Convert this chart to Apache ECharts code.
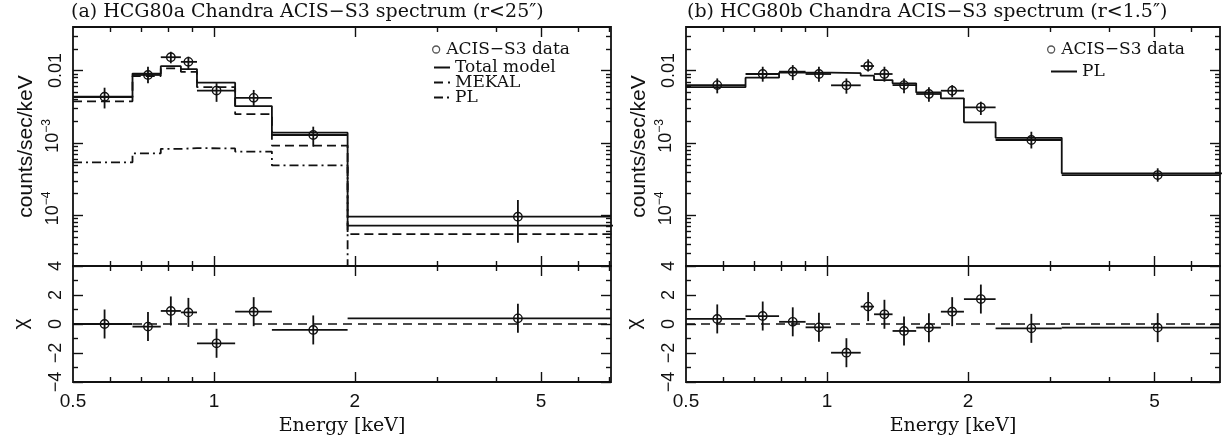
<!DOCTYPE html>
<html>
<head>
<meta charset="utf-8">
<script src="https://cdn.jsdelivr.net/npm/echarts@6/dist/echarts.min.js"></script>
<style>
html, body { margin: 0; padding: 0; background: #fff; }
#spec { width: 1223px; height: 441px; }
</style>
</head>
<body>
<div id="spec"></div>
<script>
// ---- panel (a): HCG80a, r<25" ----
// bin edges in keV (last edge runs past the frame)
const binsA = [0.5, 0.67, 0.77, 0.85, 0.92, 1.11, 1.33, 1.93, 8];
const energyA = [0.584, 0.723, 0.809, 0.882, 1.013, 1.216, 1.63, 4.46];
const rateA = [4.36e-3, 8.7e-3, 0.0153, 0.0132, 5.3e-3, 4.2e-3, 1.29e-3, 9.6e-5];
const rateLoA = [3.0e-3, 6.7e-3, 0.0126, 0.0102, 3.7e-3, 3.25e-3, 8.9e-4, 4.2e-5];
const rateHiA = [5.8e-3, 0.0113, 0.0182, 0.0156, 6.7e-3, 5.4e-3, 1.68e-3, 1.63e-4];
const totalA = [4.3e-3, 9.1e-3, 0.0115, 0.0105, 6.8e-3, 3.24e-3, 1.39e-3, 7.2e-5];
const mekalA = [3.76e-3, 8.4e-3, 0.0107, 9.6e-3, 5.9e-3, 2.5e-3, 9.2e-4, 5.5e-5];
const plA = [5.4e-4, 7.2e-4, 8.3e-4, 8.5e-4, 8.4e-4, 7.6e-4, 4.9e-4, 1.7e-5];
const chiA = [0.0, -0.18, 0.9, 0.8, -1.33, 0.85, -0.41, 0.39];
const chiErrA = [1, 1, 1, 1, 1, 1, 1, 1];

// ---- panel (b): HCG80b, r<1.5" ----
const binsB = [0.5, 0.67, 0.79, 0.90, 1.02, 1.18, 1.26, 1.38, 1.55, 1.75, 1.96, 2.29, 3.17, 8];
const energyB = [0.583, 0.729, 0.845, 0.961, 1.10, 1.224, 1.326, 1.46, 1.65, 1.85, 2.13, 2.73, 5.08];
const rateB = [6.3e-3, 8.97e-3, 9.66e-3, 8.97e-3, 6.26e-3, 0.01156, 8.97e-3, 6.3e-3, 4.75e-3, 5.27e-3, 3.11e-3, 1.1e-3, 3.61e-4];
const rateLoB = [4.85e-3, 7.03e-3, 7.4e-3, 7.03e-3, 4.8e-3, 9.7e-3, 7.03e-3, 4.85e-3, 3.72e-3, 4.28e-3, 2.44e-3, 8.4e-4, 2.92e-4];
const rateHiB = [7.8e-3, 0.0113, 0.0119, 0.0113, 7.8e-3, 0.0143, 0.0113, 7.8e-3, 5.87e-3, 6.3e-3, 3.72e-3, 1.43e-3, 4.47e-4];
const plB = [5.9e-3, 7.98e-3, 9.35e-3, 9.35e-3, 9.2e-3, 8.5e-3, 7.4e-3, 6.67e-3, 5.0e-3, 4.14e-3, 1.93e-3, 1.18e-3, 3.81e-4];
const chiB = [0.35, 0.55, 0.15, -0.23, -1.98, 1.2, 0.67, -0.48, -0.25, 0.85, 1.72, -0.3, -0.25];
const chiErrB = [1, 1, 1, 1, 1, 1, 1, 1, 1, 1, 1, 1, 1];

// ---- axes ----
const xMaxA = 7.05, xMaxB = 6.9;
const xMajor = [1, 2, 5];
const xMinor = [0.6, 0.7, 0.8, 0.9, 3, 4, 6, 7];
const xLabels = [0.5, 1, 2, 5];
const yMajor = [1e-4, 1e-3, 1e-2];
const yMinor = [3e-5, 4e-5, 5e-5, 6e-5, 7e-5, 8e-5, 9e-5,
                2e-4, 3e-4, 4e-4, 5e-4, 6e-4, 7e-4, 8e-4, 9e-4,
                2e-3, 3e-3, 4e-3, 5e-3, 6e-3, 7e-3, 8e-3, 9e-3, 0.02, 0.03];
const chiMajor = [-4, -2, 0, 2, 4];
const chiMinor = [-3, -1, 1, 3];

const INK = '#111';
const SANS = 'Liberation Sans';
const SERIF = 'DejaVu Serif';
const LW = 1.8;

function steps(edges, levels) {
    return levels.map((v, i) => [edges[i], v]).concat([[edges[edges.length - 1], levels[levels.length - 1]]]);
}
function points(e, y, lo, hi, edges) {
    return e.map((v, i) => [v, y[i], edges[i], edges[i + 1], lo[i], hi[i]]);
}
function resid(e, chi, err, edges) {
    return e.map((v, i) => [v, chi[i], edges[i], edges[i + 1], chi[i] - err[i], chi[i] + err[i]]);
}

function renderErr(params, api) {
    const c = api.coord([api.value(0), api.value(1)]);
    const l = api.coord([api.value(2), api.value(1)]);
    const r = api.coord([api.value(3), api.value(1)]);
    const d = api.coord([api.value(0), api.value(4)]);
    const u = api.coord([api.value(0), api.value(5)]);
    const st = { stroke: INK, lineWidth: LW, fill: null };
    return {
        type: 'group',
        children: [
            { type: 'line', shape: { x1: l[0], y1: l[1], x2: r[0], y2: r[1] }, style: st },
            { type: 'line', shape: { x1: d[0], y1: d[1], x2: u[0], y2: u[1] }, style: st },
            { type: 'circle', shape: { cx: c[0], cy: c[1], r: 4.2 }, style: { stroke: INK, lineWidth: 1.4, fill: null } }
        ]
    };
}

const grids = [
    { left: 73, top: 27, width: 538, height: 239 },
    { left: 73, top: 266, width: 538, height: 116 },
    { left: 686, top: 27, width: 534, height: 239 },
    { left: 686, top: 266, width: 534, height: 116 }
].map(g => Object.assign(g, { show: true, borderColor: INK, borderWidth: LW, backgroundColor: 'transparent' }));

function tick(vals, len) {
    return { show: true, inside: true, length: len, customValues: vals, lineStyle: { color: INK, width: 1.4 } };
}
const noLine = { show: false, onZero: false };

function xAxes(g, max, withLabels) {
    const base = { gridIndex: g, type: 'log', logBase: 10, min: 0.5, max: max,
        axisLine: noLine, splitLine: { show: false }, axisLabel: { show: false } };
    const bottom = Object.assign({}, base, { position: 'bottom', axisTick: tick(xMajor, 10) });
    if (withLabels) {
        bottom.axisLabel = { show: true, customValues: xLabels, margin: 10, color: INK,
            fontFamily: SANS, fontSize: 19, formatter: v => String(v) };
        bottom.name = 'Energy [keV]';
        bottom.nameLocation = 'middle';
        bottom.nameGap = 35;
        bottom.nameTextStyle = { fontFamily: SERIF, fontSize: 19, color: INK };
    }
    return [
        bottom,
        Object.assign({}, base, { position: 'bottom', axisTick: tick(xMinor, 5) }),
        Object.assign({}, base, { position: 'top', axisTick: tick(xMajor, 10) }),
        Object.assign({}, base, { position: 'top', axisTick: tick(xMinor, 5) })
    ];
}

function specAxes(g) {
    const base = { gridIndex: g, type: 'log', logBase: 10, min: 2e-5, max: 0.04,
        axisLine: noLine, splitLine: { show: false }, axisLabel: { show: false } };
    return [
        Object.assign({}, base, { position: 'left', axisTick: tick(yMajor, 10),
            axisLabel: { show: true, customValues: yMajor, rotate: 90, margin: 8, color: INK,
                formatter: v => v >= 0.005 ? '{n|0.01}' : '{b|10}{s|\u2212' + Math.round(-Math.log10(v)) + '}',
                rich: {
                    n: { fontFamily: SANS, fontSize: 18, color: INK },
                    b: { fontFamily: SANS, fontSize: 18, color: INK, lineHeight: 24, padding: [0, 0, 0, 14] },
                    s: { fontFamily: SANS, fontSize: 12, color: INK, lineHeight: 24, verticalAlign: 'top' }
                } },
            name: 'counts/sec/keV', nameLocation: 'middle', nameRotate: 90, nameGap: 36,
            nameTextStyle: { fontFamily: SANS, fontSize: 21, color: INK } }),
        Object.assign({}, base, { position: 'left', axisTick: tick(yMinor, 5) }),
        Object.assign({}, base, { position: 'right', axisTick: tick(yMajor, 10) }),
        Object.assign({}, base, { position: 'right', axisTick: tick(yMinor, 5) })
    ];
}

function chiAxes(g) {
    const base = { gridIndex: g, type: 'value', min: -4, max: 4,
        axisLine: noLine, splitLine: { show: false }, axisLabel: { show: false } };
    return [
        Object.assign({}, base, { position: 'left', axisTick: tick(chiMajor, 10),
            axisLabel: { show: true, customValues: chiMajor, rotate: 90, margin: 8, color: INK,
                fontFamily: SANS, fontSize: 18,
                formatter: v => v < 0 ? '\u2212' + (-v) : String(v) },
            name: '\u03c7', nameLocation: 'middle', nameRotate: 90, nameGap: 41,
            nameTextStyle: { fontFamily: SANS, fontSize: 21, color: INK } }),
        Object.assign({}, base, { position: 'left', axisTick: tick(chiMinor, 5) }),
        Object.assign({}, base, { position: 'right', axisTick: tick(chiMajor, 10) }),
        Object.assign({}, base, { position: 'right', axisTick: tick(chiMinor, 5) })
    ];
}

function stepLine(name, g, edges, levels, dash) {
    return { name: name, type: 'line', xAxisIndex: 4 * g, yAxisIndex: 4 * g,
        data: steps(edges, levels), step: 'end', symbol: 'none', clip: true, silent: true,
        color: INK, lineStyle: { color: INK, width: LW, type: dash } };
}
function errSeries(name, g, data) {
    return { name: name, type: 'custom', xAxisIndex: 4 * g, yAxisIndex: 4 * g,
        renderItem: renderErr, data: data, clip: true, silent: true,
        encode: { x: 0, y: 1 }, itemStyle: { color: INK } };
}

// one legend per row so the row spacing can follow the figure
const legendText = { fontFamily: SERIF, fontSize: 17, color: INK, lineHeight: 17 };
const dataIcon = { color: '#fff', borderColor: '#555', borderWidth: 1.3 };
function legendRow(name, left, top, iconW, isData) {
    const row = {
        data: [isData ? { name: name, icon: 'circle', itemStyle: dataIcon } : name],
        left: left, top: top, padding: 0, itemGap: 0, selectedMode: false,
        itemWidth: iconW, itemHeight: isData ? 7 : 12,
        formatter: n => n.replace(' (b)', ''), textStyle: legendText
    };
    if (!isData) row.itemStyle = { opacity: 0 };
    return row;
}

const option = {
    animation: false,
    backgroundColor: '#fff',
    title: [
        { text: '(a) HCG80a Chandra ACIS\u2212S3 spectrum (r<25\u2033)', left: 66, top: -2,
          textStyle: { fontFamily: SERIF, fontSize: 19, fontWeight: 'normal', color: INK } },
        { text: '(b) HCG80b Chandra ACIS\u2212S3 spectrum (r<1.5\u2033)', left: 682, top: -2,
          textStyle: { fontFamily: SERIF, fontSize: 19, fontWeight: 'normal', color: INK } }
    ],
    legend: [
        legendRow('ACIS\u2212S3 data', 432, 41, 10, true),
        legendRow('Total model', 433, 59, 16, false),
        legendRow('MEKAL', 433, 74, 16, false),
        legendRow('PL', 433, 89, 16, false),
        legendRow('ACIS\u2212S3 data (b)', 1047, 41, 10, true),
        legendRow('PL (b)', 1050, 63, 26, false)
    ],
    grid: grids,
    xAxis: [].concat(xAxes(0, xMaxA, false), xAxes(1, xMaxA, true), xAxes(2, xMaxB, false), xAxes(3, xMaxB, true)),
    yAxis: [].concat(specAxes(0), chiAxes(1), specAxes(2), chiAxes(3)),
    series: [
        errSeries('ACIS\u2212S3 data', 0, points(energyA, rateA, rateLoA, rateHiA, binsA)),
        stepLine('Total model', 0, binsA, totalA, 'solid'),
        stepLine('MEKAL', 0, binsA, mekalA, [9, 5]),
        stepLine('PL', 0, binsA, plA, [9, 4, 2, 4]),
        errSeries('chi a', 1, resid(energyA, chiA, chiErrA, binsA)),
        { name: 'zero a', type: 'line', xAxisIndex: 4, yAxisIndex: 4, symbol: 'none', silent: true,
          data: [[0.5, 0], [xMaxA, 0]], lineStyle: { color: INK, width: 1.5, type: [9, 6] } },
        errSeries('ACIS\u2212S3 data (b)', 2, points(energyB, rateB, rateLoB, rateHiB, binsB)),
        stepLine('PL (b)', 2, binsB, plB, 'solid'),
        errSeries('chi b', 3, resid(energyB, chiB, chiErrB, binsB)),
        { name: 'zero b', type: 'line', xAxisIndex: 12, yAxisIndex: 12, symbol: 'none', silent: true,
          data: [[0.5, 0], [xMaxB, 0]], lineStyle: { color: INK, width: 1.5, type: [9, 6] } }
    ]
};

const chart = echarts.init(document.getElementById('spec'));
chart.setOption(option);
</script>
</body>
</html>
